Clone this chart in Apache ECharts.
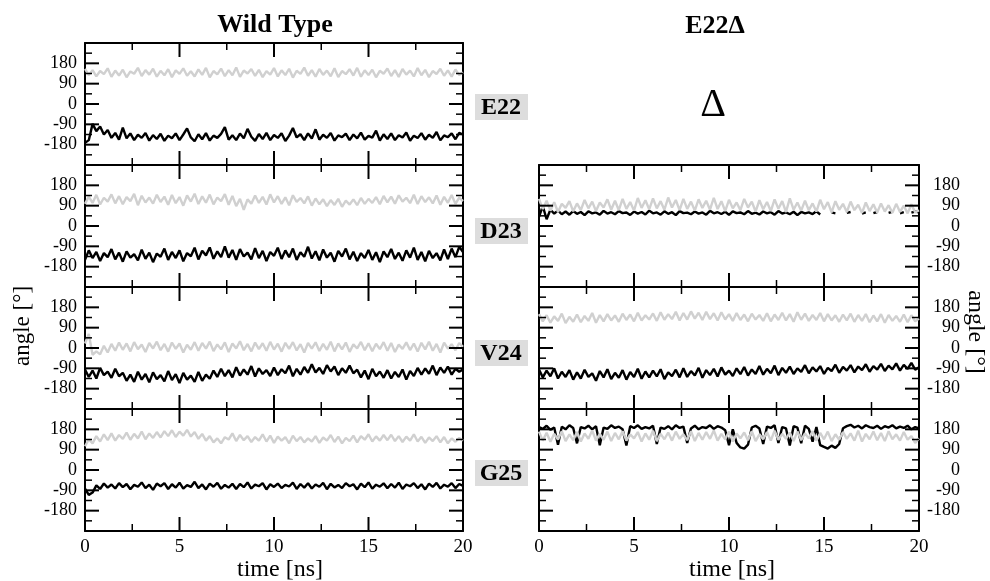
<!DOCTYPE html>
<html>
<head>
<meta charset="utf-8">
<script src="https://cdn.jsdelivr.net/npm/echarts@6/dist/echarts.min.js"></script>
<style>
html,body{margin:0;padding:0;background:#fff;}
#chart{width:990px;height:581px;}
</style>
</head>
<body>
<div id="chart"></div>
<script>
// ---- data (angle in degrees, sampled evenly over 0-20 ns) ----
const TIME_MAX = 20;
const yTicks = [-180, -90, 0, 90, 180];
const xTicks = [0, 5, 10, 15, 20];
const xTickMarks = [0, 2.5, 5, 7.5, 10, 12.5, 15, 17.5, 20];
const yTickMarks = [-270, -225, -180, -135, -90, -45, 0, 45, 90, 135, 180, 225, 270];
const panelLabels = ['E22', 'D23', 'V24', 'G25'];

const WT_E22_gray = [155,128,150,122,146,132,158,120,148,126,152,118,144,134,160,124,150,130,156,121,147,127,154,119,149,133,158,125,145,122,153,129,160,118,146,131,157,123,150,127,162,120,148,135,155,124,151,119,146,130,159,122,149,128,156,117,147,133,161,125,150,121,155,129,148,123,158,119,146,132,154,126,160,121,149,128,152,118,147,134,157,124,150,120,155,130,148,122,159,127,151,119,146,133,156,125,149,121,153,128,140];
const WT_E22_black = [-172,-160,-88,-120,-100,-135,-115,-150,-128,-158,-105,-152,-130,-160,-136,-150,-128,-162,-138,-155,-132,-163,-140,-152,-130,-160,-135,-108,-148,-165,-134,-156,-129,-162,-140,-150,-132,-102,-158,-138,-160,-131,-152,-110,-145,-163,-133,-155,-128,-160,-137,-150,-129,-164,-140,-106,-148,-134,-160,-130,-153,-112,-158,-136,-150,-128,-162,-139,-147,-131,-160,-135,-152,-127,-158,-141,-149,-118,-162,-134,-155,-130,-160,-138,-148,-126,-163,-140,-151,-129,-158,-136,-150,-124,-161,-139,-147,-130,-156,-128,-135];

const WT_D23_gray = [98,130,102,138,95,125,108,140,100,132,96,128,110,142,92,134,104,126,99,138,106,130,94,137,101,128,90,135,108,143,97,131,103,139,96,126,110,141,94,133,88,120,72,118,99,135,102,129,95,140,104,132,98,127,92,136,107,124,100,131,90,122,96,118,88,115,93,120,85,112,95,118,92,124,98,120,102,128,96,133,105,130,99,136,108,125,101,138,97,132,106,127,100,135,94,129,103,137,98,126,110];
const WT_D23_black = [-150,-108,-142,-115,-155,-120,-138,-102,-148,-118,-158,-112,-140,-125,-152,-105,-145,-118,-160,-122,-136,-100,-150,-115,-142,-108,-156,-120,-134,-96,-148,-110,-130,-95,-145,-112,-138,-90,-140,-106,-150,-102,-135,-118,-148,-98,-142,-110,-155,-115,-132,-96,-146,-108,-138,-100,-150,-116,-136,-92,-144,-112,-152,-104,-140,-118,-158,-110,-135,-100,-148,-114,-155,-120,-142,-106,-150,-116,-160,-112,-138,-102,-146,-118,-154,-108,-140,-96,-150,-115,-156,-110,-142,-120,-152,-104,-146,-100,-138,-92,-115];

const WT_V24_gray = [20,62,-30,-15,-28,10,-20,18,-12,24,-8,20,-15,26,-5,15,-18,22,-2,28,-10,18,-16,24,-4,20,-20,14,-8,26,-12,22,-3,28,-14,16,-6,25,-18,20,-2,30,-10,18,-15,24,-5,21,-12,27,-7,19,-16,23,-4,26,-11,17,-20,22,-3,25,-13,18,-8,28,-15,20,-6,24,-17,16,-2,27,-10,21,-14,19,-5,26,-12,22,-18,15,-4,25,-9,20,-16,23,-6,28,-12,18,-20,24,-3,17,-10,22,5];
const WT_V24_black = [-95,-128,-100,-135,-88,-120,-105,-132,-92,-125,-110,-145,-118,-150,-105,-140,-115,-152,-108,-138,-120,-148,-102,-142,-116,-155,-110,-140,-122,-150,-106,-145,-118,-136,-100,-128,-92,-125,-98,-130,-85,-122,-95,-118,-80,-126,-90,-115,-98,-124,-86,-120,-94,-112,-78,-125,-92,-118,-84,-110,-72,-108,-88,-115,-76,-104,-82,-120,-90,-110,-78,-112,-96,-130,-100,-138,-92,-125,-104,-132,-98,-135,-106,-128,-95,-140,-102,-124,-88,-118,-90,-114,-78,-120,-86,-110,-82,-118,-92,-105,-95];

const WT_G25_gray = [105,135,118,150,126,158,132,162,130,155,138,166,134,160,140,170,136,162,142,168,144,172,150,176,146,170,152,178,148,168,138,160,130,150,122,140,118,145,135,162,128,155,132,150,124,146,130,158,126,152,120,148,130,145,118,152,128,146,122,140,126,150,120,144,130,155,124,148,118,142,128,152,122,150,134,158,126,149,130,155,132,156,128,150,124,148,130,158,126,147,120,144,128,150,122,146,118,140,125,142,130];
const WT_G25_black = [-82,-110,-100,-68,-84,-60,-78,-64,-82,-58,-76,-62,-85,-66,-74,-55,-80,-65,-88,-60,-72,-58,-84,-63,-78,-56,-82,-67,-75,-52,-80,-64,-86,-60,-74,-57,-83,-66,-78,-61,-84,-62,-76,-55,-82,-65,-72,-58,-86,-63,-75,-60,-80,-66,-73,-56,-84,-62,-78,-59,-82,-64,-74,-57,-85,-61,-77,-66,-80,-58,-72,-63,-86,-60,-76,-55,-83,-65,-74,-59,-81,-62,-78,-56,-84,-64,-72,-58,-80,-63,-86,-60,-75,-57,-82,-65,-74,-58,-80,-62,-70];

const DEL_D23_gray = [120,75,112,68,105,62,98,80,110,65,100,70,115,78,108,66,104,82,118,72,112,70,120,76,106,68,124,80,114,74,122,78,110,72,126,82,115,70,120,76,108,68,118,80,112,72,125,75,110,66,116,78,104,70,120,82,108,64,114,74,106,66,118,76,110,62,122,72,104,68,112,70,100,64,116,74,106,60,110,72,98,62,108,70,94,58,104,66,96,60,100,64,92,58,98,62,90,56,96,60,70];
const DEL_D23_black = [40,88,30,72,55,68,52,64,50,66,54,62,48,65,56,60,50,67,55,61,52,66,57,60,49,64,55,62,51,68,56,60,50,65,54,61,48,66,57,59,52,64,55,60,50,67,56,61,53,63,49,65,57,60,52,66,54,59,51,64,56,61,50,66,55,60,52,63,48,62,56,60,53,65,51,null,null,60,56,null,null,58,62,null,null,55,60,null,57,62,null,null,58,63,null,56,61,null,59,64,60];

const DEL_V24_gray = [150,118,145,112,140,120,152,110,138,116,148,114,142,120,155,112,146,118,150,122,144,116,152,124,148,118,156,122,145,126,153,120,158,125,150,128,160,122,155,126,162,130,156,124,160,128,154,122,158,126,150,120,155,124,148,118,152,126,146,120,154,118,148,124,156,122,150,116,158,125,152,120,146,124,155,118,150,122,145,116,148,122,152,116,146,120,150,114,144,118,150,112,146,120,142,116,148,114,145,118,130];
const DEL_V24_black = [-95,-130,-100,-125,-90,-135,-105,-128,-98,-140,-108,-135,-96,-128,-112,-145,-102,-130,-94,-138,-110,-132,-98,-140,-106,-128,-92,-136,-104,-130,-100,-126,-94,-138,-108,-124,-96,-130,-90,-128,-102,-122,-88,-132,-98,-120,-92,-126,-86,-118,-100,-124,-90,-116,-84,-122,-95,-115,-80,-118,-92,-112,-78,-120,-88,-110,-82,-115,-90,-106,-76,-112,-86,-104,-80,-115,-88,-102,-74,-110,-84,-100,-76,-108,-82,-98,-72,-105,-80,-96,-70,-102,-78,-95,-68,-100,-75,-92,-66,-96,-85];

const DEL_G25_gray = [170,130,165,125,160,135,172,128,158,132,168,126,162,138,175,130,160,134,170,128,164,136,172,130,158,140,168,126,162,134,174,128,160,136,166,130,170,138,158,132,172,128,164,134,168,138,175,130,160,136,170,126,162,140,166,132,172,128,158,136,168,130,174,134,160,138,166,128,170,132,162,140,172,130,164,136,170,128,158,134,168,138,162,130,174,126,160,136,170,132,164,128,172,136,158,130,168,134,150,120,140];
const DEL_G25_black = [190,182,196,178,188,112,192,180,198,186,118,190,184,196,180,194,110,188,182,198,186,192,180,108,194,186,198,182,190,184,196,115,188,182,194,180,198,186,192,120,184,196,180,190,186,198,182,194,188,176,110,180,120,100,95,112,188,196,184,115,192,186,198,120,190,184,108,194,188,118,196,182,125,190,110,102,95,108,98,115,185,194,200,188,196,184,198,190,186,196,182,194,188,198,184,192,186,196,180,190,184];

// ---- layout ----
const FONT = 'Liberation Serif';
const COLS = [{left: 85, width: 378}, {left: 539, width: 380}];
const TOPS = [43, 165, 287, 409];
const H = 122;
const GRAY = '#d0d0d0';
const Y_MIN = -270, Y_MAX = 270;

const panels = [
  {col: 0, row: 0, gray: WT_E22_gray, black: WT_E22_black},
  {col: 0, row: 1, gray: WT_D23_gray, black: WT_D23_black},
  {col: 0, row: 2, gray: WT_V24_gray, black: WT_V24_black},
  {col: 0, row: 3, gray: WT_G25_gray, black: WT_G25_black},
  {col: 1, row: 1, gray: DEL_D23_gray, black: DEL_D23_black},
  {col: 1, row: 2, gray: DEL_V24_gray, black: DEL_V24_black},
  {col: 1, row: 3, gray: DEL_G25_gray, black: DEL_G25_black}
];

function toPairs(arr) {
  const step = TIME_MAX / (arr.length - 1);
  return arr.map((v, i) => [i * step, v]);
}

const grid = [], xAxis = [], yAxis = [], series = [], tickSeries = [];
const lineStyle = {color: '#000', width: 2};

// tick marks drawn inward from every frame edge, positioned through the axes
function xTickRender(params, api) {
  const t = api.value(0), major = api.value(1) === 1;
  const len = major ? 14 : 7, w = major ? 2 : 1.5;
  const pb = api.coord([t, Y_MIN]), pt = api.coord([t, Y_MAX]);
  return {type: 'group', children: [
    {type: 'line', shape: {x1: pb[0], y1: pb[1], x2: pb[0], y2: pb[1] - len}, style: {stroke: '#000', lineWidth: w}},
    {type: 'line', shape: {x1: pt[0], y1: pt[1], x2: pt[0], y2: pt[1] + len}, style: {stroke: '#000', lineWidth: w}}
  ]};
}
function yTickRender(params, api) {
  const v = api.value(1), major = api.value(2) === 1;
  const len = major ? 14 : 7, w = major ? 2 : 1.5;
  const pl = api.coord([0, v]), pr = api.coord([TIME_MAX, v]);
  return {type: 'group', children: [
    {type: 'line', shape: {x1: pl[0], y1: pl[1], x2: pl[0] + len, y2: pl[1]}, style: {stroke: '#000', lineWidth: w}},
    {type: 'line', shape: {x1: pr[0], y1: pr[1], x2: pr[0] - len, y2: pr[1]}, style: {stroke: '#000', lineWidth: w}}
  ]};
}

panels.forEach((p, k) => {
  const c = COLS[p.col];
  const b = 2 * k;
  grid.push({left: c.left, top: TOPS[p.row], width: c.width, height: H, show: false});
  const isBottom = p.row === 3;
  ['bottom', 'top'].forEach(pos => {
    xAxis.push({
      type: 'value', gridIndex: k, position: pos, min: 0, max: TIME_MAX, interval: 5,
      axisLine: {show: true, onZero: false, lineStyle},
      axisTick: {show: false}, minorTick: {show: false},
      splitLine: {show: false}, minorSplitLine: {show: false},
      axisLabel: {show: pos === 'bottom' && isBottom, fontFamily: FONT, fontSize: 19, color: '#000', margin: 7,
        formatter: v => xTicks.includes(v) ? String(v) : ''}
    });
  });
  ['left', 'right'].forEach(pos => {
    const showLab = (p.col === 0 && pos === 'left') || (p.col === 1 && pos === 'right');
    yAxis.push({
      type: 'value', gridIndex: k, position: pos, min: Y_MIN, max: Y_MAX, interval: 90,
      axisLine: {show: true, onZero: false, lineStyle},
      axisTick: {show: false}, minorTick: {show: false},
      splitLine: {show: false}, minorSplitLine: {show: false},
      axisLabel: {show: showLab, fontFamily: FONT, fontSize: 18, color: '#000',
        margin: pos === 'left' ? 8 : 41, align: 'right',
        formatter: v => yTicks.includes(v) ? String(v) : ''}
    });
  });
  const black = {type: 'line', xAxisIndex: b, yAxisIndex: b, data: toPairs(p.black),
    showSymbol: false, symbol: 'none', connectNulls: false, silent: true,
    lineStyle: {color: '#000', width: 2.4}, itemStyle: {color: '#000'}};
  const gray = {type: 'line', xAxisIndex: b, yAxisIndex: b, data: toPairs(p.gray),
    showSymbol: false, symbol: 'none', silent: true,
    lineStyle: {color: GRAY, width: 2.4}, itemStyle: {color: GRAY}};
  if (p.col === 1) { series.push(black, gray); } else { series.push(gray, black); }
  tickSeries.push({type: 'custom', xAxisIndex: b, yAxisIndex: b, silent: true, z: 5,
    data: xTickMarks.map(t => [t, t % 5 === 0 ? 1 : 0]), renderItem: xTickRender});
  tickSeries.push({type: 'custom', xAxisIndex: b, yAxisIndex: b, silent: true, z: 5,
    data: yTickMarks.map(v => [0, v, v % 90 === 0 ? 1 : 0]), renderItem: yTickRender,
    encode: {x: 0, y: 1}});
});

// ---- text decorations ----
const boxCenters = [107, 231, 353, 473];
const graphic = [];
const txt = (x, y, text, font, extra) => Object.assign({type: 'text', x, y,
  style: {text, font, fill: '#000', align: 'center', verticalAlign: 'middle'}}, extra || {});
graphic.push(txt(275, 25, 'Wild Type', 'bold 26px "' + FONT + '"'));
graphic.push(txt(715, 26, 'E22\u0394', 'bold 26px "' + FONT + '"'));
graphic.push(txt(713, 105, '\u0394', '40px "' + FONT + '"'));
panelLabels.forEach((lab, i) => {
  graphic.push({type: 'rect', shape: {x: 475, y: boxCenters[i] - 13, width: 53, height: 26}, style: {fill: '#dddddd'}});
  graphic.push(txt(501, boxCenters[i] + 1, lab, 'bold 24px "' + FONT + '"'));
});
graphic.push(txt(280, 570, 'time [ns]', '24px "' + FONT + '"'));
graphic.push(txt(732, 570, 'time [ns]', '24px "' + FONT + '"'));
graphic.push(txt(23, 326, 'angle [\u00b0]', '23px "' + FONT + '"', {rotation: Math.PI / 2}));
graphic.push(txt(975, 332, 'angle [\u00b0]', '24px "' + FONT + '"', {rotation: -Math.PI / 2}));

const chart = echarts.init(document.getElementById('chart'), null, {renderer: 'canvas'});
chart.setOption({
  animation: false,
  backgroundColor: '#fff',
  grid, xAxis, yAxis, series: series.concat(tickSeries), graphic
});
</script>
</body>
</html>
